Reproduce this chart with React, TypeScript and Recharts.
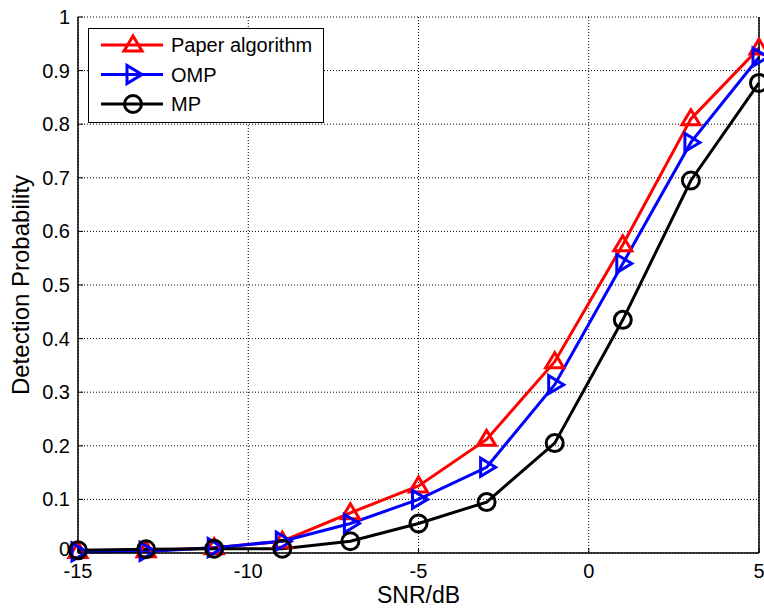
import { LineChart, Line, XAxis, YAxis, CartesianGrid, Legend } from "recharts";

const FONT = "'Liberation Sans', Arial, Helvetica, sans-serif";

// SNR sweep (dB) and detection probability per algorithm.
const SNR = [-15, -13, -11, -9, -7, -5, -3, -1, 1, 3, 5];
const PAPER = [0.003, 0.004, 0.01, 0.022, 0.075, 0.125, 0.212, 0.357, 0.575, 0.81, 0.942];
const OMP = [0.002, 0.003, 0.01, 0.022, 0.055, 0.1, 0.16, 0.314, 0.54, 0.766, 0.925];
const MP = [0.005, 0.007, 0.008, 0.008, 0.022, 0.055, 0.095, 0.205, 0.435, 0.695, 0.877];

const X_TICKS = [-15, -10, -5, 0, 5];
const Y_TICKS = [0, 0.1, 0.2, 0.3, 0.4, 0.5, 0.6, 0.7, 0.8, 0.9, 1];

const SERIES = [
  { key: "paper", name: "Paper algorithm", color: "#ff0000", shape: "up", values: PAPER },
  { key: "omp", name: "OMP", color: "#0000ff", shape: "right", values: OMP },
  { key: "mp", name: "MP", color: "#000000", shape: "circle", values: MP },
];

const data = SNR.map((snr, i) => ({
  snr,
  paper: PAPER[i],
  omp: OMP[i],
  mp: MP[i],
}));

function Marker({ cx, cy, shape, color }: { cx?: number; cy?: number; shape: string; color: string }) {
  if (cx == null || cy == null) return null;
  const common = { fill: "none", stroke: color, strokeWidth: 3, strokeLinejoin: "miter" as const };
  if (shape === "up") {
    const pts = `${cx},${cy - 9} ${cx - 9},${cy + 6} ${cx + 9},${cy + 6}`;
    return <polygon points={pts} {...common} />;
  }
  if (shape === "right") {
    const pts = `${cx + 9},${cy} ${cx - 6},${cy - 9} ${cx - 6},${cy + 9}`;
    return <polygon points={pts} {...common} />;
  }
  return <circle cx={cx} cy={cy} r={8.5} {...common} />;
}

function LegendBox() {
  return (
    <svg width={236} height={95} style={{ display: "block" }}>
      <rect x={0.5} y={0.5} width={235} height={94} fill="#fff" stroke="#000" strokeWidth={1} />
      {SERIES.map((s, i) => {
        const y = 17 + i * 29.5;
        return (
          <g key={s.key}>
            <line x1={13} x2={75} y1={y} y2={y} stroke={s.color} strokeWidth={3} />
            <Marker cx={45} cy={y} shape={s.shape} color={s.color} />
            <text x={83} y={y + 7} fontSize={20} fontFamily={FONT} fill="#000">
              {s.name}
            </text>
          </g>
        );
      })}
    </svg>
  );
}

const fmtY = (v: number) => (v === 0 ? "0" : v === 1 ? "1" : v.toFixed(1));

// y tick text; the "0" sits a touch high so it clears the "-15" below it
function YTick({ x, y, payload }: any) {
  const v = payload.value as number;
  return (
    <text
      x={x}
      y={v === 0 ? y - 4 : y}
      textAnchor="end"
      dominantBaseline="central"
      fontSize={20}
      fontFamily={FONT}
      fill="#000"
    >
      {fmtY(v)}
    </text>
  );
}

export default function App() {
  return (
    <div style={{ position: "absolute", left: 0, top: 0, background: "#fff" }}>
      <LineChart width={764} height={610} data={data} margin={{ top: 17, right: 0, bottom: 0, left: 0 }}>
        <CartesianGrid
          xAxisId="bottom"
          yAxisId="left"
          stroke="#000"
          strokeWidth={1}
          strokeDasharray="1 2"
          horizontalValues={Y_TICKS}
          verticalValues={X_TICKS}
        />
        <XAxis
          xAxisId="bottom"
          dataKey="snr"
          type="number"
          domain={[-15, 5]}
          ticks={X_TICKS}
          height={57}
          axisLine={{ stroke: "#000", strokeWidth: 1.5 }}
          tickLine={{ stroke: "#000" }}
          tickSize={-5}
          tickMargin={16}
          tick={{ fill: "#000", fontSize: 20, fontFamily: FONT }}
          interval={0}
          label={{
            content: ({ viewBox }: any) => (
              <text
                x={viewBox.x + viewBox.width / 2}
                y={viewBox.y + 50}
                textAnchor="middle"
                fontSize={23}
                fontFamily={FONT}
                fill="#000"
              >
                SNR/dB
              </text>
            ),
          }}
        />
        <XAxis
          xAxisId="top"
          orientation="top"
          dataKey="snr"
          type="number"
          domain={[-15, 5]}
          ticks={X_TICKS}
          height={0}
          axisLine={{ stroke: "#000", strokeWidth: 1.5 }}
          tickLine={{ stroke: "#000" }}
          tickSize={-5}
          tickFormatter={() => ""}
        />
        <YAxis
          yAxisId="left"
          type="number"
          domain={[0, 1]}
          ticks={Y_TICKS}
          width={78}
          axisLine={{ stroke: "#000", strokeWidth: 1.5 }}
          tickLine={{ stroke: "#000" }}
          tickSize={-5}
          tickMargin={13}
          tick={<YTick />}
          interval={0}
          label={{
            content: ({ viewBox }: any) => {
              const cx = 20;
              const cy = viewBox.y + viewBox.height / 2;
              return (
                <text
                  x={cx}
                  y={cy}
                  transform={`rotate(-90 ${cx} ${cy})`}
                  textAnchor="middle"
                  dominantBaseline="central"
                  fontSize={24}
                  fontFamily={FONT}
                  fill="#000"
                >
                  Detection Probability
                </text>
              );
            },
          }}
        />
        <YAxis
          yAxisId="right"
          orientation="right"
          type="number"
          domain={[0, 1]}
          ticks={Y_TICKS}
          width={5}
          axisLine={{ stroke: "#000", strokeWidth: 1.5 }}
          tickLine={{ stroke: "#000" }}
          tickSize={-5}
          tickFormatter={() => ""}
        />
        <Legend
          layout="vertical"
          verticalAlign="middle"
          align="center"
          wrapperStyle={{ position: "absolute", left: 88, top: 28, width: 236, height: 95 }}
          content={() => <LegendBox />}
        />
        {SERIES.map((s) => (
          <Line
            key={s.key}
            xAxisId="bottom"
            yAxisId="left"
            dataKey={s.key}
            name={s.name}
            type="linear"
            stroke={s.color}
            strokeWidth={3}
            dot={(p: any) => <Marker key={`${s.key}-${p.index}`} cx={p.cx} cy={p.cy} shape={s.shape} color={s.color} />}
            activeDot={false}
            isAnimationActive={false}
          />
        ))}
      </LineChart>
    </div>
  );
}
